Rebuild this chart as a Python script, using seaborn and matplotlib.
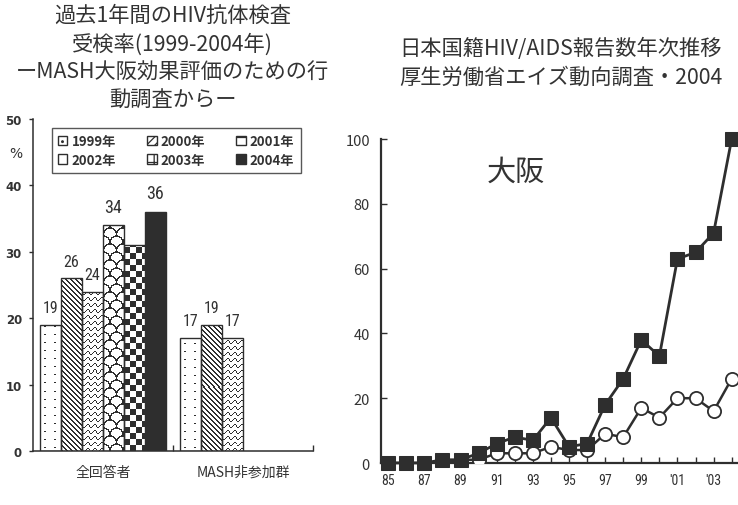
import numpy as np
import pandas as pd
import matplotlib
matplotlib.use("Agg")
import matplotlib.pyplot as plt
from matplotlib import font_manager
from matplotlib.patches import Patch
from matplotlib.colors import ListedColormap
from matplotlib.ticker import FixedLocator
import seaborn as sns

# ---- HIV antibody test rate by survey year (%) ----
groups = ["全回答者", "MASH非参加群"]
survey_years = ["1999年", "2000年", "2001年", "2002年", "2003年", "2004年"]
rate_all = [19, 26, 24, 34, 31, 36]
rate_non_mash = [17, 19, 17]
# survey years whose bar carries no value label (all respondents group)
unlabeled_all = ["2003年"]

# ---- Osaka: annual HIV / AIDS reports (Japanese nationals) ----
report_years = list(range(1985, 2005))
osaka_hiv = [0, 0, 0, 1, 1, 3, 6, 8, 7, 14, 5, 6, 18, 26, 38, 33, 63, 65, 71, 100]
osaka_aids = [0, 0, 0, 0, 1, 1, 3, 3, 3, 5, 4, 4, 9, 8, 17, 14, 20, 20, 16, 26]
year_ticks = [1985, 1987, 1989, 1991, 1993, 1995, 1997, 1999, 2001, 2003]
year_tick_labels = ["85", "87", "89", "91", "93", "95", "97", "99", "'01", "'03"]

sns.set_theme(style="white")
JP = ["Noto Sans CJK JP", "DejaVu Sans"]
installed = {f.name for f in font_manager.fontManager.ttflist}
NARROW_NAME = next((n for n in ["Liberation Sans Narrow", "DejaVu Sans Condensed",
                                "Roboto Condensed"] if n in installed), "DejaVu Sans")
NARROW = [NARROW_NAME, "DejaVu Sans"]
plt.rcParams["font.family"] = JP
plt.rcParams["hatch.linewidth"] = 0.9
INK = "#2e2e2e"
TXT = "#333333"

fig = plt.figure(figsize=(7.38, 5.06), dpi=100)

# ======================= left: grouped bar chart =======================
ax1 = fig.add_axes([0.0447, 0.1067, 0.3794, 0.6561])

bar_df = pd.DataFrame(
    [(groups[0], y, v) for y, v in zip(survey_years, rate_all)]
    + [(groups[1], y, v) for y, v in zip(survey_years, rate_non_mash)],
    columns=["group", "year", "rate"],
)
sns.barplot(data=bar_df, x="group", y="rate", hue="year", order=groups,
            hue_order=survey_years, palette=["white"] * 6, saturation=1,
            width=0.9, edgecolor=INK, linewidth=1.0, legend=False, ax=ax1)
ax1.set_xlim(-0.5, 1.5)
ax1.set_ylim(0, 50)


def texture(kind, w, h):
    yy, xx = np.mgrid[0:h, 0:w]
    if kind == "dots":
        return (((xx % 10) == 4) | ((xx % 10) == 5)) & ((yy % 8) == 3)
    if kind == "diag":
        return ((xx + yy) % 5) < 1.2
    if kind == "waves":
        phase = (yy + 1.6 * np.sin(2 * np.pi * xx / 7.0)) % 6.0
        return phase < 1.1
    if kind == "scales":
        r = 6.5
        out = np.zeros((h, w), bool)
        for row in range(-1, h // 8 + 2):
            cy = row * 8
            for col in range(-1, 4):
                cx = col * 13 + (6.5 if row % 2 else 0)
                d = np.hypot(xx - cx, yy - cy)
                out |= (np.abs(d - r) < 0.7) & (yy >= cy)
        return out
    if kind == "checker":
        s = 6
        return ((xx // s + yy // s) % 2) == 1
    return np.zeros((h, w), bool)


kinds = ["dots", "diag", "waves", "scales", "checker", "solid"]
fig.canvas.draw()
cmap = ListedColormap(["white", INK])
for kind, cont in zip(kinds, ax1.containers):
    for bar in cont:
        x0, y0 = bar.get_x(), bar.get_y()
        x1, y1 = x0 + bar.get_width(), y0 + bar.get_height()
        if kind == "solid":
            bar.set_facecolor(INK)
            continue
        (px0, py0), (px1, py1) = ax1.transData.transform([(x0, y0), (x1, y1)])
        w, h = max(int(round(px1 - px0)), 1), max(int(round(py1 - py0)), 1)
        img = texture(kind, w, h).astype(float)
        bar.set_facecolor("none")
        bar.set_zorder(3)
        im = ax1.imshow(img, extent=(x0, x1, y0, y1), origin="lower",
                        cmap=cmap, vmin=0, vmax=1, aspect="auto",
                        interpolation="nearest", zorder=2)
        im.set_clip_path(bar)

# value labels from the bar heights
for year, cont in zip(survey_years, ax1.containers):
    labels = []
    for bar in cont:
        grp = 0 if bar.get_x() < 0.5 else 1
        hide = grp == 0 and year in unlabeled_all
        labels.append("" if hide else f"{bar.get_height():.0f}")
    big = year in ("2002年", "2004年")
    ax1.bar_label(cont, labels=labels, padding=7, color=TXT,
                  fontsize=13 if big else 11.5, family=NARROW)

ax1.set_xlim(-0.5, 1.5)
ax1.set_ylim(0, 50)
ax1.set_yticks([0, 10, 20, 30, 40, 50])
ax1.set_xlabel("")
ax1.set_ylabel("")
for lab in ax1.get_yticklabels():
    lab.set_fontweight("bold")
    lab.set_family(["DejaVu Sans"])
ax1.tick_params(axis="y", direction="out", length=3, width=1, colors=INK,
                labelsize=8.5, labelcolor=TXT, pad=5, left=True)
ax1.tick_params(axis="x", length=0, labelsize=10, labelcolor=TXT, pad=10)
ax1.xaxis.set_minor_locator(FixedLocator([0.5, 1.5]))
ax1.tick_params(axis="x", which="minor", direction="in", length=4, width=1,
                color=INK, bottom=True)
sns.despine(ax=ax1)
for s in ("left", "bottom"):
    ax1.spines[s].set_color(INK)
    ax1.spines[s].set_linewidth(1.1)
fig.text(0.012, 0.688, "%", fontsize=10, color=TXT, family=["DejaVu Sans"])

handles = [
    Patch(facecolor="white", edgecolor=INK, hatch=".."),
    Patch(facecolor="white", edgecolor=INK, hatch="////"),
    Patch(facecolor="white", edgecolor=INK, hatch="--"),
    Patch(facecolor="white", edgecolor=INK),
    Patch(facecolor="white", edgecolor=INK, hatch="++"),
    Patch(facecolor=INK, edgecolor=INK),
]
# legend fills column by column; order entries so each row reads left to right
order = [0, 3, 1, 4, 2, 5]
leg = ax1.legend([handles[i] for i in order], [survey_years[i] for i in order],
                 ncol=3, loc="upper left",
                 bbox_to_anchor=(0.043, 0.992, 0.936, 0.0), mode="expand",
                 frameon=True, fancybox=False, edgecolor=INK,
                 handlelength=0.75, handleheight=0.75, handletextpad=0.3,
                 columnspacing=1.0, borderpad=0.45, labelspacing=0.35,
                 prop={"family": JP, "weight": "bold", "size": 9.5})
leg.get_frame().set_linewidth(1.0)
for t in leg.get_texts():
    t.set_color(TXT)

fig.text(0.234, 0.990, "過去1年間のHIV抗体検査\n受検率(1999-2004年)\n"
         "ーMASH大阪効果評価のための行\n動調査からー",
         ha="center", va="top", fontsize=15.3, color=TXT, linespacing=1.36)

# ======================= right: yearly reports line chart =======================
ax2 = fig.add_axes([0.5163, 0.083, 0.4837, 0.6403])
line_df = pd.DataFrame({"year": report_years, "hiv": osaka_hiv, "aids": osaka_aids})
sns.lineplot(data=line_df, x="year", y="aids", ax=ax2, color=INK, linewidth=1.8,
             marker="o", markersize=9.5, markerfacecolor="white",
             markeredgecolor=INK, markeredgewidth=1.3, zorder=3)
sns.lineplot(data=line_df, x="year", y="hiv", ax=ax2, color=INK, linewidth=2.0,
             marker="s", markersize=10.5, markerfacecolor=INK,
             markeredgecolor=INK, zorder=4, clip_on=False)
ax2.set_xlim(1984.6, 2004.35)
ax2.set_ylim(0, 100)
ax2.set_xlabel("")
ax2.set_ylabel("")
ax2.set_yticks([0, 20, 40, 60, 80, 100])
ax2.set_xticks(year_ticks)
ax2.set_xticklabels(year_tick_labels)
ax2.xaxis.set_minor_locator(FixedLocator(report_years))
for lab in ax2.get_xticklabels():
    lab.set_family(NARROW)
ax2.tick_params(axis="y", direction="in", length=4, width=1, colors=INK,
                labelsize=10.5, labelcolor=TXT, pad=8, left=True)
ax2.tick_params(axis="x", which="both", direction="in", length=4, width=1,
                colors=INK, labelsize=10, labelcolor=TXT, pad=7, bottom=True)
sns.despine(ax=ax2)
for s in ("left", "bottom"):
    ax2.spines[s].set_color(INK)
    ax2.spines[s].set_linewidth(1.6)
ax2.text(0.378, 0.90, "大阪", transform=ax2.transAxes, ha="center", va="center",
         fontsize=21, color=TXT)

fig.text(0.760, 0.925, "日本国籍HIV/AIDS報告数年次推移\n厚生労働省エイズ動向調査・2004",
         ha="center", va="top", fontsize=15.3, color=TXT, linespacing=1.38)

fig.savefig("out.png", dpi=100, facecolor="white")
